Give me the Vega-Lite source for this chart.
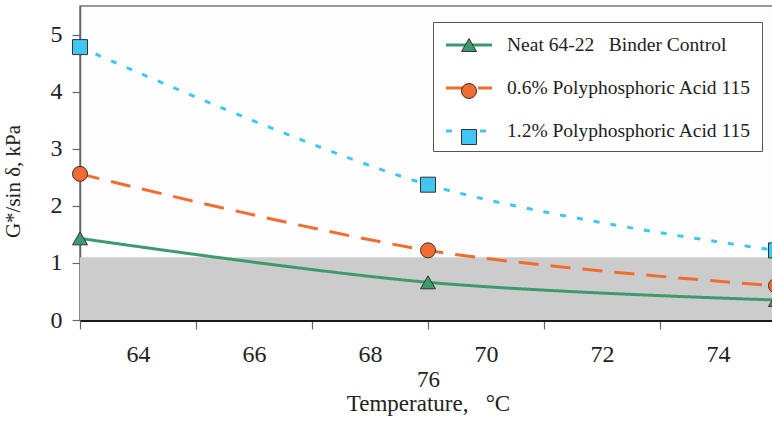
{
  "$schema": "https://vega.github.io/schema/vega-lite/v6.json",
  "width": 696,
  "height": 314,
  "autosize": {"type": "none"},
  "padding": {"left": 80, "top": 6, "right": 0, "bottom": 101},
  "background": "white",
  "config": {
    "font": "Liberation Serif",
    "view": {"stroke": "#777777", "strokeWidth": 1.5, "fill": "#fdfdfd"},
    "axis": {
      "labelFont": "Liberation Serif",
      "titleFont": "Liberation Serif",
      "labelColor": "#222222",
      "titleColor": "#222222",
      "titleFontWeight": "normal",
      "grid": false,
      "tickColor": "#666666",
      "tickWidth": 1.2,
      "domainColor": "#666666"
    }
  },
  "data": {
    "values": [
      {"series": "Neat 64-22\u00a0\u00a0 Binder Control", "temp": 63, "g": 1.43},
      {"series": "Neat 64-22\u00a0\u00a0 Binder Control", "temp": 69, "g": 0.66},
      {"series": "Neat 64-22\u00a0\u00a0 Binder Control", "temp": 75, "g": 0.35},
      {"series": "0.6% Polyphosphoric Acid 115", "temp": 63, "g": 2.56},
      {"series": "0.6% Polyphosphoric Acid 115", "temp": 69, "g": 1.22},
      {"series": "0.6% Polyphosphoric Acid 115", "temp": 75, "g": 0.6},
      {"series": "1.2% Polyphosphoric Acid 115", "temp": 63, "g": 4.78},
      {"series": "1.2% Polyphosphoric Acid 115", "temp": 69, "g": 2.37},
      {"series": "1.2% Polyphosphoric Acid 115", "temp": 75, "g": 1.22}
    ]
  },
  "layer": [
    {
      "data": {"values": [{"lower": 0, "upper": 1.1}]},
      "mark": {"type": "rect", "color": "#cccccc"},
      "encoding": {
        "x": {"datum": 63, "type": "quantitative"},
        "x2": {"datum": 75},
        "y": {"field": "lower", "type": "quantitative"},
        "y2": {"field": "upper"}
      }
    },
    {
      "mark": {"type": "line", "interpolate": "cardinal", "strokeWidth": 3},
      "encoding": {
        "x": {
          "field": "temp",
          "type": "quantitative",
          "scale": {"domain": [63, 75], "nice": false, "zero": false},
          "axis": {
            "values": [64, 66, 68, 70, 72, 74, 76],
            "format": "d",
            "tickOffset": -58,
            "labelOffset": 58,
            "tickSize": 9,
            "labelFontSize": 24,
            "labelPadding": 13,
            "labelFlush": false,
            "labelOverlap": false,
            "domainColor": "#1a1a1a",
            "domainWidth": 3,
            "title": ["76", "Temperature,\u00a0\u00a0 °C"],
            "titleFontSize": 23,
            "titleLineHeight": 24,
            "titlePadding": 2
          }
        },
        "y": {
          "field": "g",
          "type": "quantitative",
          "scale": {"domain": [0, 5.5], "nice": false},
          "axis": {
            "values": [0, 1, 2, 3, 4, 5],
            "format": "d",
            "tickSize": 8,
            "labelFontSize": 24,
            "labelPadding": 10,
            "domainWidth": 1.5,
            "title": "G*/sin δ, kPa",
            "titleFontSize": 21,
            "titlePadding": 27,
            "titleY": 175
          }
        },
        "color": {
          "field": "series",
          "type": "nominal",
          "scale": {
            "domain": ["Neat 64-22\u00a0\u00a0 Binder Control", "0.6% Polyphosphoric Acid 115", "1.2% Polyphosphoric Acid 115"],
            "range": ["#3d9a6c", "#f26c32", "#40c6f2"]
          },
          "legend": {
            "orient": "none",
            "legendX": 353,
            "legendY": 16,
            "title": null,
            "symbolType": "M-2,0H2",
            "symbolSize": 529,
            "symbolStrokeWidth": 3,
            "symbolOffset": 13,
            "labelOffset": 25,
            "padding": 10,
            "rowPadding": 20,
            "strokeColor": "#555555",
            "fillColor": "#ffffff",
            "labelFont": "Liberation Serif",
            "labelFontSize": 19.5,
            "labelColor": "#222222",
            "labelLimit": 400
          }
        },
        "strokeDash": {
          "field": "series",
          "type": "nominal",
          "scale": {
            "domain": ["Neat 64-22\u00a0\u00a0 Binder Control", "0.6% Polyphosphoric Acid 115", "1.2% Polyphosphoric Acid 115"],
            "range": [[1, 0], [20, 12], [6, 11]]
          }
        }
      }
    },
    {
      "mark": {"type": "point", "filled": true, "opacity": 1, "size": 225, "stroke": "#333333", "strokeWidth": 1},
      "encoding": {
        "x": {"field": "temp", "type": "quantitative"},
        "y": {"field": "g", "type": "quantitative"},
        "fill": {
          "field": "series",
          "type": "nominal",
          "sort": ["Neat 64-22\u00a0\u00a0 Binder Control", "0.6% Polyphosphoric Acid 115", "1.2% Polyphosphoric Acid 115"],
          "scale": {"range": ["#3d9a6c", "#f26c32", "#40c6f2"]},
          "legend": {
            "orient": "none",
            "legendX": 353,
            "legendY": 16,
            "title": null,
            "symbolSize": 225,
            "symbolStrokeColor": "#333333",
            "symbolStrokeWidth": 1,
            "symbolOpacity": 1,
            "symbolOffset": 13,
            "labelOffset": 25,
            "padding": 10,
            "rowPadding": 20,
            "labelFontSize": 26,
            "labelExpr": "''",
            "labelLimit": 400,
            "encode": {
              "symbols": {
                "update": {
                  "shape": {"scale": "shape", "field": "value"}
                }
              }
            }
          }
        },
        "shape": {
          "field": "series",
          "type": "nominal",
          "sort": ["Neat 64-22\u00a0\u00a0 Binder Control", "0.6% Polyphosphoric Acid 115", "1.2% Polyphosphoric Acid 115"],
          "scale": {"range": ["triangle-up", "circle", "square"]},
          "legend": null
        }
      }
    }
  ]
}
